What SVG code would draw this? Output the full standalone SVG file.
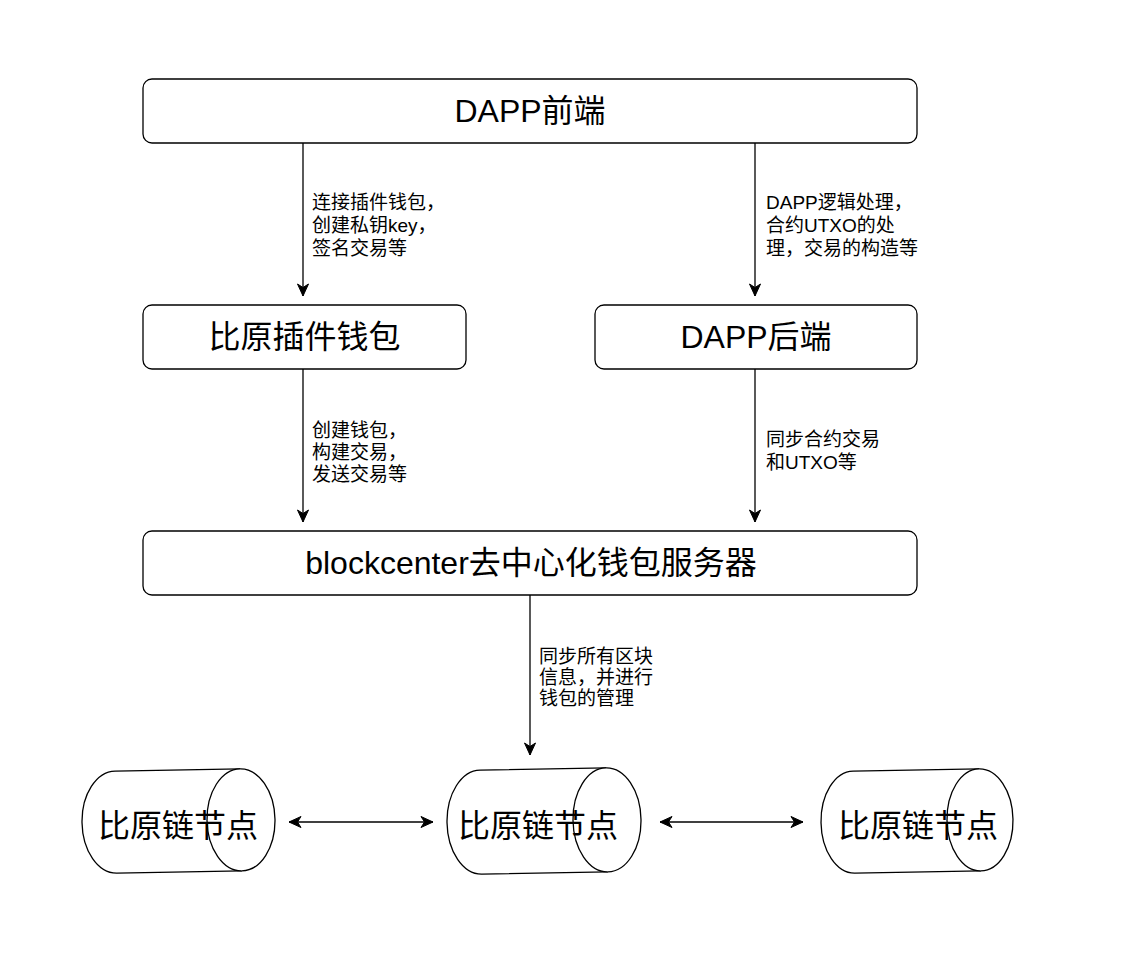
<svg xmlns="http://www.w3.org/2000/svg" width="1127" height="963" viewBox="0 0 1127 963">
<style>
.box{fill:#fff;stroke:#000;stroke-width:1.3}
.cyl{fill:#fff;stroke:#000;stroke-width:1.3}
.edge{fill:none;stroke:#000;stroke-width:1.3}
.title{font-family:"Liberation Sans","Noto Sans CJK SC",sans-serif;font-size:32px;fill:#000;text-anchor:middle;dominant-baseline:central}
.lbl{font-family:"Liberation Sans","Noto Sans CJK SC",sans-serif;font-size:19px;fill:#000;dominant-baseline:central}
</style>
<defs>
<marker id="ah" markerUnits="userSpaceOnUse" markerWidth="14" markerHeight="14" viewBox="-13 -7 14 14" refX="0" refY="0" orient="auto-start-reverse">
<path d="M0,0 L-12,-5.5 L-8.5,0 L-12,5.5 Z" fill="#000" stroke="#000" stroke-width="1"/>
</marker>
</defs>
<rect width="1127" height="963" fill="#fff"/>
<g id="connectors">
<path class="edge" d="M303,143 L303,296" marker-end="url(#ah)"/>
<path class="edge" d="M755,143 L755,296" marker-end="url(#ah)"/>
<path class="edge" d="M303,369 L303,522" marker-end="url(#ah)"/>
<path class="edge" d="M755,369 L755,522" marker-end="url(#ah)"/>
<path class="edge" d="M530,595 L530,755" marker-end="url(#ah)"/>
<path class="edge" d="M289,822 L433,822" marker-start="url(#ah)" marker-end="url(#ah)"/>
<path class="edge" d="M660,822 L803,822" marker-start="url(#ah)" marker-end="url(#ah)"/>
<text class="lbl"><tspan x="312" y="202">连接插件钱包，</tspan><tspan x="312" y="225">创建私钥key，</tspan><tspan x="312" y="248">签名交易等</tspan></text>
<text class="lbl"><tspan x="766" y="202">DAPP逻辑处理，</tspan><tspan x="766" y="225">合约UTXO的处</tspan><tspan x="766" y="248">理，交易的构造等</tspan></text>
<text class="lbl"><tspan x="312" y="430">创建钱包，</tspan><tspan x="312" y="452">构建交易，</tspan><tspan x="312" y="474">发送交易等</tspan></text>
<text class="lbl"><tspan x="766" y="439">同步合约交易</tspan><tspan x="766" y="462">和UTXO等</tspan></text>
<text class="lbl"><tspan x="539" y="656">同步所有区块</tspan><tspan x="539" y="677">信息，并进行</tspan><tspan x="539" y="698">钱包的管理</tspan></text>
</g>
<g id="dapp-frontend">
<rect class="box" x="143" y="79" width="774" height="64" rx="9"/>
<text class="title" x="530" y="111">DAPP前端</text>
</g>
<g id="plugin-wallet">
<rect class="box" x="143" y="305" width="323" height="64" rx="9"/>
<text class="title" x="304.5" y="337">比原插件钱包</text>
</g>
<g id="dapp-backend">
<rect class="box" x="595" y="305" width="322" height="64" rx="9"/>
<text class="title" x="756" y="337">DAPP后端</text>
</g>
<g id="blockcenter">
<rect class="box" x="143" y="531" width="774" height="64" rx="9"/>
<text class="title" x="531" y="563">blockcenter去中心化钱包服务器</text>
</g>
<g id="node-left">
<g transform="rotate(-1 178.5 821)">
<path class="cyl" d="M116,770 L241,770 A34,51 0 0 1 241,872 L116,872 A34,51 0 0 1 116,770 Z"/>
<path class="cyl" d="M241,770 A34,51 0 0 0 241,872" fill="none"/>
</g>
<text class="title" x="178" y="826">比原链节点</text>
</g>
<g id="node-middle">
<g transform="rotate(-1 544 821)">
<path class="cyl" d="M481,769 L607,769 A34,52 0 0 1 607,873 L481,873 A34,52 0 0 1 481,769 Z"/>
<path class="cyl" d="M607,769 A34,52 0 0 0 607,873" fill="none"/>
</g>
<text class="title" x="538" y="826">比原链节点</text>
</g>
<g id="node-right">
<g transform="rotate(-1 917 821)">
<path class="cyl" d="M854,770 L980,770 A33,51 0 0 1 980,872 L854,872 A33,51 0 0 1 854,770 Z"/>
<path class="cyl" d="M980,770 A33,51 0 0 0 980,872" fill="none"/>
</g>
<text class="title" x="918" y="826">比原链节点</text>
</g>
</svg>
